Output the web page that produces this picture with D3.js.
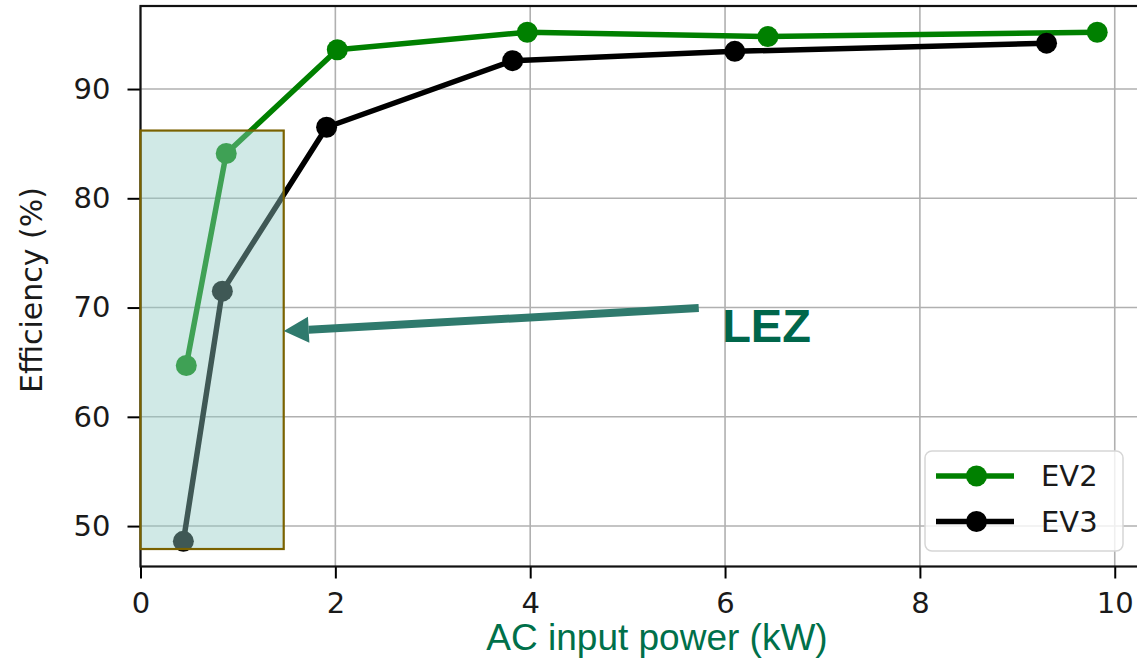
<!DOCTYPE html>
<html>
<head>
<meta charset="utf-8">
<script src="https://cdn.jsdelivr.net/npm/d3@7"></script>
<style>
  html, body { margin: 0; padding: 0; background: #fff; }
  svg { display: block; }
</style>
</head>
<body>
<script>
// measured efficiency of the two chargers
const ev2Power = [0.47, 0.88, 2.02, 3.97, 6.44, 9.82];
const ev2Eff = [64.7, 84.1, 93.6, 95.2, 94.8, 95.2];
const ev3Power = [0.44, 0.84, 1.91, 3.82, 6.10, 9.30];
const ev3Eff = [48.6, 71.5, 86.5, 92.6, 93.45, 94.2];

const xTicks = [0, 2, 4, 6, 8, 10];
const yTicks = [50, 60, 70, 80, 90];

// low efficiency zone box + callout
const lezPower = [0, 1.47];
const lezEff = [47.9, 86.2];
const arrowFrom = [5.73, 69.95];
const arrowTo = [1.47, 67.85];
const lezLabelAt = [5.97, 66.85];

const width = 1137, height = 659;

const x = d3.scaleLinear().domain([0, 10.29]).range([140.5, 1143]);
const y = d3.scaleLinear().domain([46.3, 97.6]).range([566.5, 6]);

const svg = d3.select("body").append("svg")
  .attr("width", width)
  .attr("height", height);

const series = [
  { name: "EV2", color: "#008000", pts: ev2Power.map((p, i) => [p, ev2Eff[i]]) },
  { name: "EV3", color: "#000000", pts: ev3Power.map((p, i) => [p, ev3Eff[i]]) }
];

// grid
const grid = svg.append("g").attr("stroke", "#b0b0b0").attr("stroke-width", 1.6);
grid.selectAll(".gx").data(xTicks).join("line")
  .attr("x1", d => x(d)).attr("x2", d => x(d))
  .attr("y1", y.range()[0]).attr("y2", y.range()[1]);
grid.selectAll(".gy").data(yTicks).join("line")
  .attr("x1", x.range()[0]).attr("x2", x.range()[1])
  .attr("y1", d => y(d)).attr("y2", d => y(d));

// axes
const xAxis = svg.append("g")
  .attr("transform", `translate(0,${y.range()[0]})`)
  .call(d3.axisBottom(x).tickValues(xTicks).tickSize(12).tickPadding(10).tickFormat(d3.format("d")));
const yAxis = svg.append("g")
  .attr("transform", `translate(${x.range()[0]},0)`)
  .call(d3.axisLeft(y).tickValues(yTicks).tickSize(13).tickPadding(17).tickFormat(d3.format("d")));

[xAxis, yAxis].forEach(a => {
  a.select(".domain").remove();
  a.selectAll("line").attr("stroke", "#000").attr("stroke-width", 2);
  a.selectAll("text")
    .attr("font-family", "DejaVu Sans")
    .attr("font-size", 29)
    .attr("fill", "#1a1a1a");
});
xAxis.selectAll("text").attr("dy", "0.85em");

// spines
svg.append("rect")
  .attr("x", x.range()[0]).attr("y", y.range()[1])
  .attr("width", x.range()[1] - x.range()[0])
  .attr("height", y.range()[0] - y.range()[1])
  .attr("fill", "none")
  .attr("stroke", "#111")
  .attr("stroke-width", 2.2);

// lines + markers
const line = d3.line().x(d => x(d[0])).y(d => y(d[1]));
const sg = svg.selectAll(".series").data(series).join("g");
sg.append("path")
  .attr("d", d => line(d.pts))
  .attr("fill", "none")
  .attr("stroke", d => d.color)
  .attr("stroke-width", 5.5)
  .attr("stroke-linejoin", "round");
sg.each(function (s) {
  d3.select(this).selectAll("circle").data(s.pts).join("circle")
    .attr("cx", d => x(d[0]))
    .attr("cy", d => y(d[1]))
    .attr("r", 10.5)
    .attr("fill", s.color);
});

// LEZ box
svg.append("rect")
  .attr("x", x(lezPower[0]))
  .attr("y", y(lezEff[1]))
  .attr("width", x(lezPower[1]) - x(lezPower[0]))
  .attr("height", y(lezEff[0]) - y(lezEff[1]))
  .attr("fill", "#93cdc6")
  .attr("fill-opacity", 0.43)
  .attr("stroke", "#7a6200")
  .attr("stroke-width", 2.2);

// arrow
const ax0 = x(arrowFrom[0]), ay0 = y(arrowFrom[1]);
const ax1 = x(arrowTo[0]), ay1 = y(arrowTo[1]);
const ang = Math.atan2(ay1 - ay0, ax1 - ax0);
const headLen = 25, headHalf = 13;
const bx = ax1 - headLen * Math.cos(ang), by = ay1 - headLen * Math.sin(ang);
svg.append("line")
  .attr("x1", ax0).attr("y1", ay0)
  .attr("x2", bx).attr("y2", by)
  .attr("stroke", "#2f7a6d")
  .attr("stroke-width", 8);
svg.append("path")
  .attr("d", `M${ax1},${ay1}L${bx - headHalf * Math.sin(ang)},${by + headHalf * Math.cos(ang)}L${bx + headHalf * Math.sin(ang)},${by - headHalf * Math.cos(ang)}Z`)
  .attr("fill", "#2f7a6d");

svg.append("text")
  .attr("x", x(lezLabelAt[0]))
  .attr("y", y(lezLabelAt[1]))
  .attr("font-family", "Liberation Sans, Arial, sans-serif")
  .attr("font-weight", "bold")
  .attr("font-size", 47)
  .attr("fill", "#00664a")
  .text("LEZ");

// legend
const lg = svg.append("g").attr("transform", "translate(925,451)");
lg.append("rect")
  .attr("width", 198).attr("height", 100)
  .attr("rx", 7)
  .attr("fill", "#fff").attr("fill-opacity", 0.8)
  .attr("stroke", "#d6d6d6").attr("stroke-width", 1.5);
const li = lg.selectAll(".item").data(series).join("g")
  .attr("transform", (d, i) => `translate(0,${25 + i * 45.5})`);
li.append("line")
  .attr("x1", 11).attr("x2", 89)
  .attr("stroke", d => d.color).attr("stroke-width", 5.5);
li.append("circle")
  .attr("cx", 51.5).attr("r", 10.5).attr("fill", d => d.color);
li.append("text")
  .attr("x", 116).attr("dy", "0.36em")
  .attr("font-family", "DejaVu Sans")
  .attr("font-size", 29)
  .attr("fill", "#1a1a1a")
  .text(d => d.name);

// axis titles
svg.append("text")
  .attr("transform", "translate(42,290) rotate(-90)")
  .attr("text-anchor", "middle")
  .attr("font-family", "DejaVu Sans")
  .attr("font-size", 30)
  .attr("fill", "#1a1a1a")
  .text("Efficiency (%)");

svg.append("text")
  .attr("x", 657)
  .attr("y", 650)
  .attr("text-anchor", "middle")
  .attr("font-family", "Liberation Sans, Arial, sans-serif")
  .attr("font-size", 37)
  .attr("fill", "#00704a")
  .text("AC input power (kW)");
</script>
</body>
</html>
